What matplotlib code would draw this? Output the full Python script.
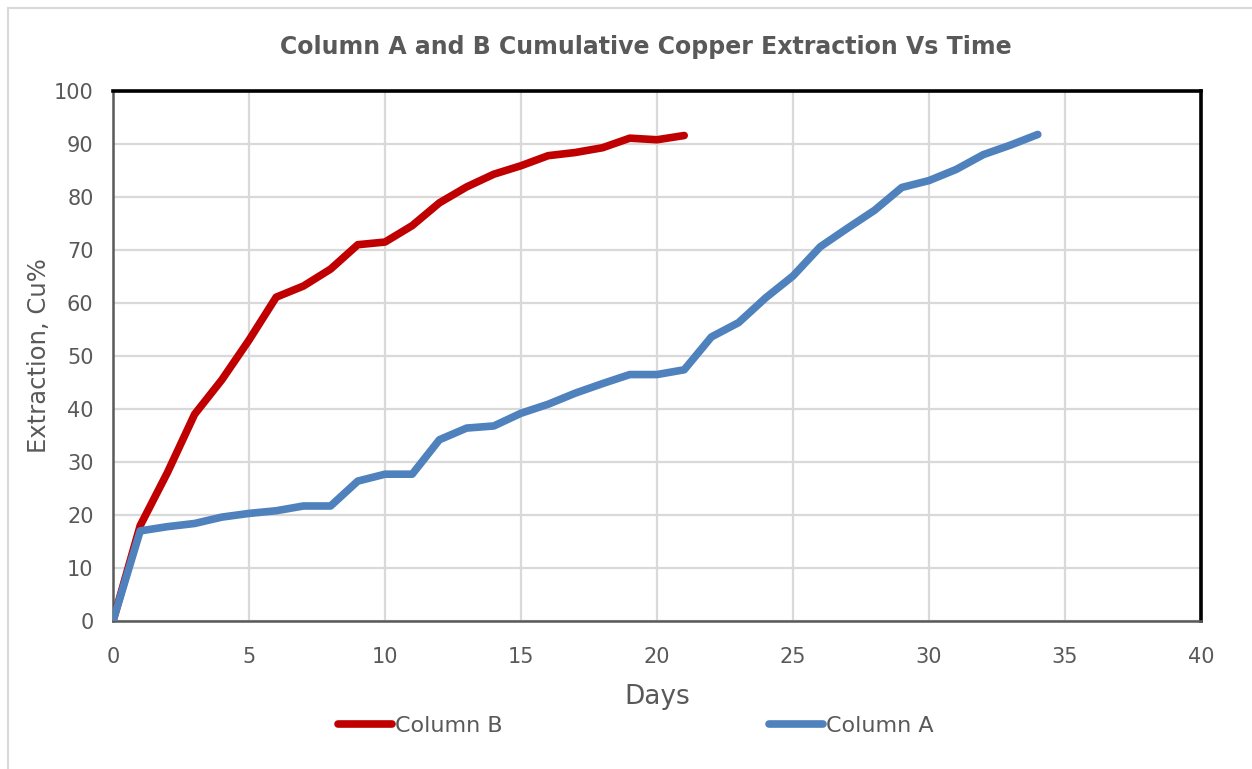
import matplotlib
matplotlib.use('Agg')
import matplotlib.pyplot as plt
from matplotlib.patches import Rectangle

# data
days_b = [0, 1, 2, 3, 4, 5, 6, 7, 8, 9, 10, 11, 12, 13, 14, 15, 16, 17, 18, 19, 20, 21]
column_b = [0, 18.0, 28.0, 39.0, 45.5, 53.0, 61.1, 63.2, 66.4, 71.0, 71.5, 74.6, 78.9,
            81.9, 84.3, 85.9, 87.8, 88.4, 89.3, 91.1, 90.8, 91.6]

days_a = list(range(35))
column_a = [0, 17.0, 17.8, 18.4, 19.6, 20.3, 20.8, 21.7, 21.7, 26.4, 27.7, 27.7, 34.2,
            36.4, 36.8, 39.2, 40.9, 43.0, 44.8, 46.5, 46.5, 47.4, 53.6, 56.3, 61.0,
            65.1, 70.6, 74.1, 77.5, 81.8, 83.1, 85.2, 88.0, 89.8, 91.8]

x_ticks = list(range(0, 45, 5))
y_ticks = list(range(0, 110, 10))

plt.rcParams['font.family'] = ['DejaVu Sans']

txt = '#595959'
W, H = 1252, 769
fig = plt.figure(figsize=(W / 100, H / 100), dpi=100)
fig.patch.set_facecolor('white')

# outer chart border
fig.patches.append(Rectangle((8 / W, -0.01), 1.1, 1.0 - 8 / H + 0.01, transform=fig.transFigure,
                             fill=False, edgecolor='#d9d9d9', linewidth=1.5))

ax = fig.add_axes([113 / W, (H - 621) / H, (1201 - 113) / W, (621 - 91) / H])

ax.plot(days_b, column_b, color='#C00000', linewidth=5.5, solid_capstyle='round',
        solid_joinstyle='round', label='Column B', zorder=3)
ax.plot(days_a, column_a, color='#4F81BD', linewidth=5.5, solid_capstyle='round',
        solid_joinstyle='round', label='Column A', zorder=4)

ax.set_xlim(0, 40)
ax.set_ylim(0, 100)
ax.set_xticks(x_ticks)
ax.set_yticks(y_ticks)
ax.grid(True, color='#d9d9d9', linewidth=1.6)
ax.set_axisbelow(True)
ax.tick_params(length=0, labelsize=15, colors=txt)
ax.tick_params(axis='x', pad=19)
ax.tick_params(axis='y', pad=14)

for side in ['top', 'right']:
    ax.spines[side].set_color('black')
    ax.spines[side].set_linewidth(2.6)
for side in ['left', 'bottom']:
    ax.spines[side].set_color('#595959')
    ax.spines[side].set_linewidth(1.8)

ax.set_xlabel('Days', fontsize=19, color=txt, labelpad=12)
ax.set_ylabel('Extraction, Cu%', fontsize=17.5, color=txt, labelpad=2)

fig.text(646 / W, 1 - 47 / H, 'Column A and B Cumulative Copper Extraction Vs Time',
         ha='center', va='center', fontsize=17, fontweight='bold', color=txt)

leg = fig.legend(loc='center', bbox_to_anchor=(636 / W, 1 - 726 / H), ncol=2,
                 frameon=False, fontsize=16, handlelength=2.4, handletextpad=0.15,
                 columnspacing=12)
for t in leg.get_texts():
    t.set_color(txt)

fig.savefig('out.png', dpi=100)
